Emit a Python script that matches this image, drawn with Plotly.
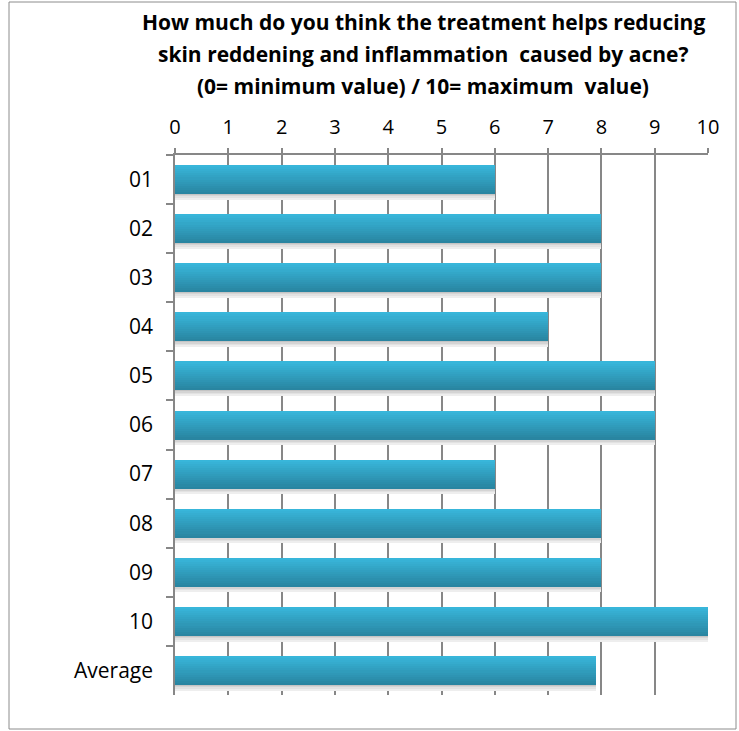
import plotly.graph_objects as go

# Survey answers per participant, plus the average row
categories = ["01", "02", "03", "04", "05", "06", "07", "08", "09", "10", "Average"]
scores = [6, 8, 8, 7, 9, 9, 6, 8, 8, 10, 7.9]
x_ticks = list(range(0, 11))

title_lines = [
    "How much do you think the treatment helps reducing",
    "skin reddening and inflammation  caused by acne?",
    "(0= minimum value) / 10= maximum  value)",
]

FONT = "Open Sans"
W, H = 739, 731
L, R, T, B = 175, 31, 155, 36

fig = go.Figure()

# soft drop shadow under each bar
bar_w = 0.59
shadow = ["#c4c4c4", "#d4d4d4", "#e2e2e2", "#eeeeee"]
sh_step = 0.03
for k, col in enumerate(shadow):
    fig.add_trace(go.Bar(
        y=categories, x=scores, orientation="h",
        width=sh_step, offset=bar_w / 2 + k * sh_step - 0.005,
        marker=dict(color=col, line=dict(width=0)),
        hoverinfo="skip", showlegend=False,
    ))

# vertical gradient on the bars, drawn as thin stacked strips
top = (0x38, 0xB6, 0xDA)
bot = (0x29, 0x85, 0xA1)
n = 14
step = bar_w / n
for k in range(n):
    t = k / (n - 1)
    c = tuple(round(a + (b - a) * t) for a, b in zip(top, bot))
    fig.add_trace(go.Bar(
        y=categories, x=scores, orientation="h",
        width=step * 1.02, offset=-bar_w / 2 + k * step,
        marker=dict(color="rgb(%d,%d,%d)" % c, line=dict(width=0)),
        hoverinfo="skip", showlegend=False,
    ))

# chart outline
pw = W - L - R
ph = H - T - B
fig.add_shape(
    type="rect", xref="paper", yref="paper",
    x0=(9 - L) / pw, x1=(736 - L) / pw,
    y0=(H - B - 729) / ph, y1=(H - B - 2) / ph,
    line=dict(color="#8c8c8c", width=1), layer="below",
)

for i, line in enumerate(title_lines):
    fig.add_annotation(
        text="<b>%s</b>" % line, xref="paper", yref="paper",
        x=(423 - L) / pw, y=(H - B - (22 + 32 * i)) / ph,
        xanchor="center", yanchor="middle", showarrow=False,
        font=dict(family=FONT, size=21, color="#000000"),
    )

fig.update_layout(
    width=W, height=H,
    margin=dict(l=L, r=R, t=T, b=B),
    barmode="overlay", bargap=0,
    paper_bgcolor="white", plot_bgcolor="white",
    font=dict(family=FONT, size=20, color="#000000"),
    xaxis=dict(
        side="top", range=[0, 10], tickvals=x_ticks,
        showgrid=True, gridcolor="#878787", gridwidth=1.5,
        showline=True, linecolor="#878787", linewidth=1.5,
        ticks="outside", ticklen=5, tickcolor="#878787", tickwidth=1.5,
        tickfont=dict(size=20), ticklabelstandoff=6,
        zeroline=False, fixedrange=True,
    ),
    yaxis=dict(
        autorange="reversed", tickson="boundaries",
        showline=True, linecolor="#878787", linewidth=1.5,
        ticks="outside", ticklen=7, tickcolor="#878787", tickwidth=1.5,
        showgrid=False, tickfont=dict(size=21), ticklabelstandoff=16,
        fixedrange=True,
    ),
)

fig.write_html("out.html")
